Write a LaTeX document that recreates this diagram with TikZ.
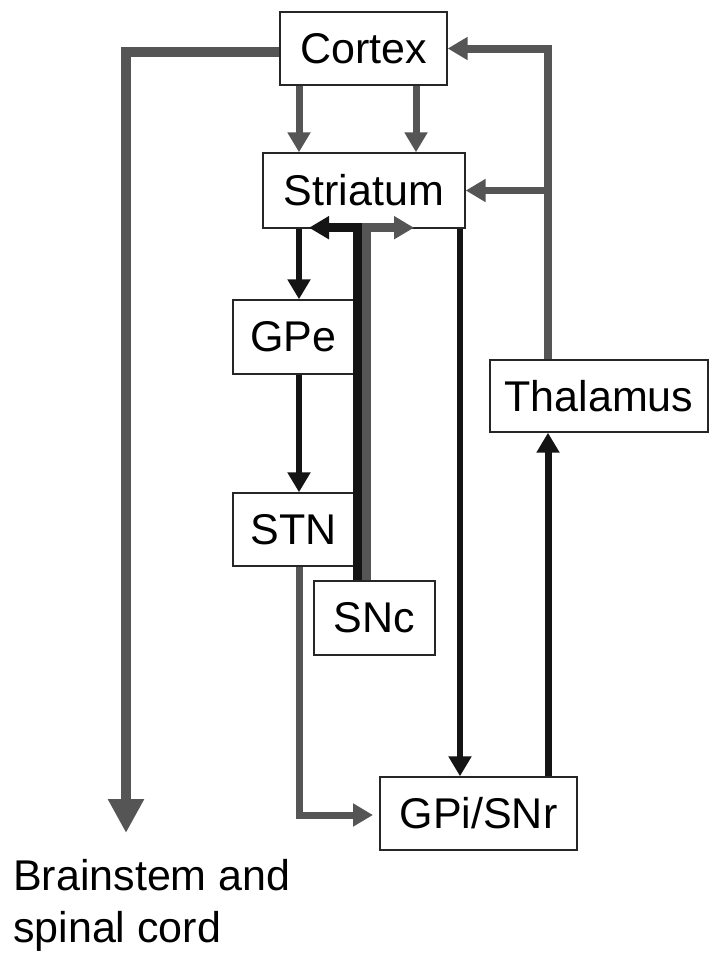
\documentclass[tikz,border=0pt]{standalone}
\usepackage{fontspec}
\setmainfont{Liberation Sans}
\usetikzlibrary{arrows.meta,calc}
\definecolor{lgray}{HTML}{555555}
\definecolor{lblack}{HTML}{141414}
\tikzset{
  region/.style={draw=black!85, line width=1.4pt, fill=white, inner sep=0pt,
    font=\fontsize{43}{50}\selectfont},
  tipS/.style={-{Triangle[width=22pt,length=20pt]}},
  grayarrow/.style={draw=lgray, line width=7pt, tipS, line join=miter},
  grayfeed/.style={draw=lgray, line width=8pt, line join=miter, tipS},
  blackarrow/.style={draw=lblack, line width=6pt, tipS, line join=miter},
  dopblack/.style={draw=lblack, line width=9pt, line join=miter, -{Triangle[width=22pt,length=20pt]}},
  dopgray/.style={draw=lgray, line width=9pt, line join=miter, -{Triangle[width=22pt,length=20pt]}},
  motor/.style={draw=lgray, line width=10pt, line join=miter, -{Triangle[width=34pt,length=34pt]}},
}
\begin{document}
\begin{tikzpicture}[x=1pt,y=-1pt]
\useasboundingbox (0,0) rectangle (711,956);
% coordinates for connector columns
\coordinate (xL) at (299,0);
\coordinate (xR) at (416,0);
\coordinate (xS) at (460,0);
\coordinate (xT) at (548,0);
\coordinate (xDb) at (357,0);
\coordinate (xDg) at (366,0);
\coordinate (tL) at (309,0);
\coordinate (tR) at (414,0);
\coordinate (bs) at (126,833);
\coordinate (gin) at (373,815);

% boxes
\node[region, minimum width=167pt, minimum height=73pt] (Cortex) at (363.5,48.5) {Cortex};
\node[region, minimum width=202pt, minimum height=75pt] (Striatum) at (364,190.5) {Striatum};
\node[region, minimum width=121pt, minimum height=74pt] (GPe) at (293.5,337) {GPe};
\node[region, minimum width=121pt, minimum height=73pt] (STN) at (293.5,529.5) {STN};
\node[region, minimum width=121pt, minimum height=74pt] (SNc) at (374.5,618) {SNc};
\node[region, minimum width=218pt, minimum height=72pt] (Thalamus) at (599,396) {Thalamus};
\node[region, minimum width=197pt, minimum height=73pt] (GPi) at (478.5,813.5) {GPi/SNr};

% cortex to brainstem and spinal cord
\draw[motor] ($(Cortex.west)+(0,3.5)$) -| (bs);

% feedback from thalamus to cortex / striatum
\draw[grayfeed] (Thalamus.north -| xT) |- (Cortex.east);
\draw[grayarrow] (xT |- Striatum.east) -- (Striatum.east);

% cortex to striatum
\draw[grayarrow] (Cortex.south -| xL) -- (Striatum.north -| xL);
\draw[grayarrow] (Cortex.south -| xR) -- (Striatum.north -| xR);

% striatum outputs
\draw[blackarrow] (Striatum.south -| xL) -- (GPe.north -| xL);
\draw[blackarrow] (Striatum.south -| xS) -- (GPi.north -| xS);
\draw[blackarrow] (GPe.south -| xL) -- (STN.north -| xL);

% dopamine from SNc
\draw[dopgray] (SNc.north -| xDg) |- ($(Striatum.south -| tR)+(0,-1)$);
\draw[dopblack] (SNc.north -| xDb) |- ($(Striatum.south -| tL)+(0,-1)$);

% STN to GPi
\draw[grayarrow] (STN.south -| xL) |- (gin);

% GPi to thalamus
\draw[blackarrow, line width=7pt] (GPi.north -| xT) -- (Thalamus.south -| xT);

% label
\node[anchor=north west, align=left, inner sep=0pt, font=\fontsize{43}{52}\selectfont] (out) at (13,859) {Brainstem and\\spinal cord};
\end{tikzpicture}
\end{document}
